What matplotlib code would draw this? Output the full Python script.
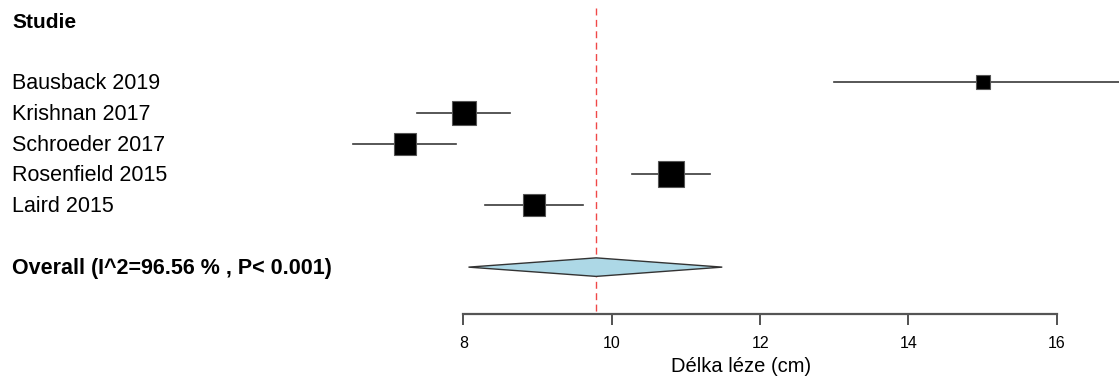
import numpy as np
import matplotlib.pyplot as plt
from matplotlib.patches import Polygon

plt.rcParams['font.family'] = ['Liberation Sans', 'DejaVu Sans']

# study estimates (lesion length, cm) with 95% CI
studies = ['Bausback 2019', 'Krishnan 2017', 'Schroeder 2017', 'Rosenfield 2015', 'Laird 2015']
mean = [15.0, 8.01, 7.21, 10.80, 8.95]
lower = [13.0, 7.38, 6.52, 10.28, 8.29]
upper = [17.0, 8.63, 7.90, 11.32, 9.61]
weights = [13.3, 21.7, 20.5, 24.0, 20.5]

# pooled estimate
pooled = 9.79
pooled_lo = 8.07
pooled_hi = 11.49
overall_label = 'Overall (I^2=96.56 % , P< 0.001)'

xticks = [8, 10, 12, 14, 16]
xlabel = 'Délka léze (cm)'

fig = plt.figure(figsize=(11.19, 3.79), dpi=100)
ax = fig.add_axes([0, 0, 1, 1])
ax.set_xlim(1.756, 16.837)
ax.set_ylim(9.62, -2.644)

rows = np.arange(len(studies))
overall_row = len(studies) + 1

# reference line at pooled mean
ax.plot([pooled, pooled], [-2.385, 7.508], color='#f04848', lw=1.0,
        dashes=(5, 3.2), zorder=1)

# CIs and weighted boxes
for r, m, lo, hi, w in zip(rows, mean, lower, upper, weights):
    ax.plot([lo, hi], [r, r], color='#3a3a3a', lw=1.2, zorder=2)
    ax.plot(m, r, marker='s', ms=w * 1.073 * 0.72, color='black',
            mec='#555555', mew=0.8, zorder=3)

# pooled diamond
h = 0.30
diamond = Polygon([[pooled_lo, overall_row], [pooled, overall_row - h],
                   [pooled_hi, overall_row], [pooled, overall_row + h]],
                  closed=True, facecolor='#add8e6', edgecolor='#333333',
                  lw=1.0, zorder=3)
ax.add_patch(diamond)

# labels
x_text = ax.get_xlim()[0] + 12 / 74.2
ax.text(x_text, -1.9, 'Studie', fontsize=15, fontweight='bold',
        va='center', ha='left')
for r, s in zip(rows, studies):
    ax.text(x_text, r + 0.05, s, fontsize=15.5, va='center', ha='left')
ax.text(x_text, overall_row + 0.05, overall_label, fontsize=15.5,
        fontweight='bold', va='center', ha='left')

# x axis drawn like base R
for side in ['top', 'left', 'right']:
    ax.spines[side].set_visible(False)
ax.spines['bottom'].set_position(('data', 7.508))
ax.spines['bottom'].set_bounds(xticks[0], xticks[-1])
ax.spines['bottom'].set_color('#555555')
ax.spines['bottom'].set_linewidth(1.6)
ax.set_xticks(xticks)
ax.set_xticklabels([str(t) for t in xticks])
ax.tick_params(axis='x', direction='out', length=8, width=1.3,
               color='#444444', labelsize=11.5, pad=8)
ax.set_yticks([])
ax.set_xlabel(xlabel, fontsize=14.5)
ax.xaxis.set_label_coords(741 / 1119, 1 - 367 / 379)
ax.xaxis.label.set_va('center')

fig.savefig('out.png', dpi=100)
